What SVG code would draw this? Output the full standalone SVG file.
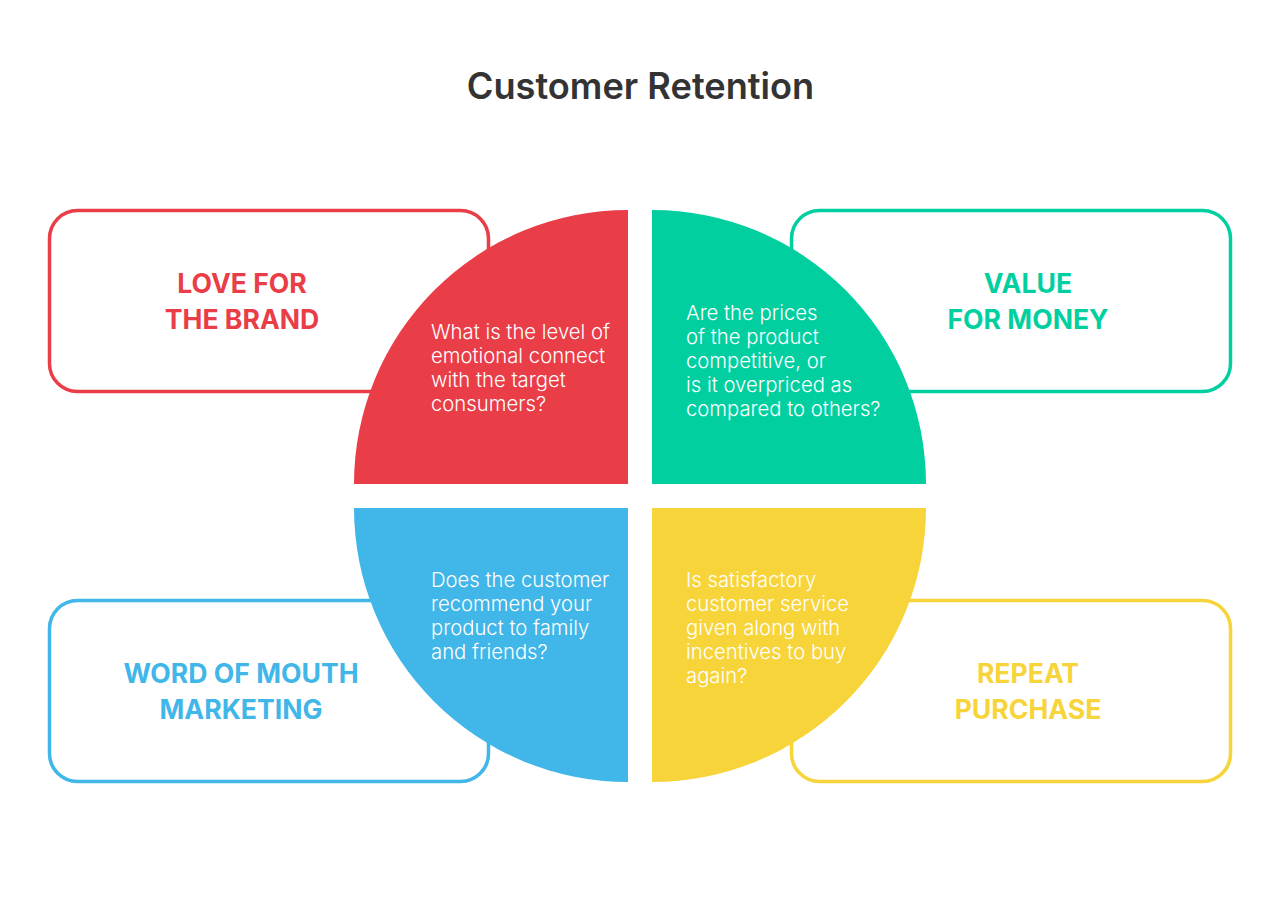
<svg xmlns="http://www.w3.org/2000/svg" width="1280" height="903" viewBox="0 0 1280 903">
<style>
.box{fill:#fff;stroke-width:3.5}
.lbl{font-family:Inter,"Liberation Sans",sans-serif;font-weight:700;font-size:26.6px;text-anchor:middle}
.q{font-family:Inter,"Liberation Sans",sans-serif;font-weight:300;font-size:20.3px;fill:#fff}
.title{font-family:Inter,"Liberation Sans",sans-serif;font-weight:600;font-size:36.2px;fill:#333;text-anchor:middle}
</style>
<rect width="1280" height="903" fill="#fff"/>
<text class="title" x="640.5" y="99">Customer Retention</text>
<g id="box-love">
<rect class="box" x="49.5" y="210.5" width="439" height="181" rx="28" stroke="#E93D48"/>
<text class="lbl" fill="#E93D48" x="242" y="293">LOVE FOR</text>
<text class="lbl" fill="#E93D48" x="242" y="329">THE BRAND</text>
</g>
<g id="box-value">
<rect class="box" x="791.5" y="210.5" width="439" height="181" rx="28" stroke="#02CFA0"/>
<text class="lbl" fill="#02CFA0" x="1028" y="293">VALUE</text>
<text class="lbl" fill="#02CFA0" x="1028" y="329">FOR MONEY</text>
</g>
<g id="box-word">
<rect class="box" x="49.5" y="600.5" width="439" height="181" rx="28" stroke="#41B6E8"/>
<text class="lbl" fill="#41B6E8" x="241" y="683">WORD OF MOUTH</text>
<text class="lbl" fill="#41B6E8" x="241" y="719">MARKETING</text>
</g>
<g id="box-repeat">
<rect class="box" x="791.5" y="600.5" width="439" height="181" rx="28" stroke="#F7D43A"/>
<text class="lbl" fill="#F7D43A" x="1028" y="683">REPEAT</text>
<text class="lbl" fill="#F7D43A" x="1028" y="719">PURCHASE</text>
</g>
<g id="quad-red">
<path d="M628,484 L628,210 A274,274 0 0 0 354,484 Z" fill="#E93D48"/>
<text class="q" x="431" y="339">What is the level of</text>
<text class="q" x="431" y="363">emotional connect</text>
<text class="q" x="431" y="387">with the target</text>
<text class="q" x="431" y="411">consumers?</text>
</g>
<g id="quad-green">
<path d="M652,484 L652,210 A274,274 0 0 1 926,484 Z" fill="#02CFA0"/>
<text class="q" x="686" y="320">Are the prices</text>
<text class="q" x="686" y="344">of the product</text>
<text class="q" x="686" y="368">competitive, or</text>
<text class="q" x="686" y="392">is it overpriced as</text>
<text class="q" x="686" y="416">compared to others?</text>
</g>
<g id="quad-blue">
<path d="M628,508 L628,782 A274,274 0 0 1 354,508 Z" fill="#41B6E8"/>
<text class="q" x="431" y="587">Does the customer</text>
<text class="q" x="431" y="611">recommend your</text>
<text class="q" x="431" y="635">product to family</text>
<text class="q" x="431" y="659">and friends?</text>
</g>
<g id="quad-yellow">
<path d="M652,508 L652,782 A274,274 0 0 0 926,508 Z" fill="#F7D43A"/>
<text class="q" x="686" y="587">Is satisfactory</text>
<text class="q" x="686" y="611">customer service</text>
<text class="q" x="686" y="635">given along with</text>
<text class="q" x="686" y="659">incentives to buy</text>
<text class="q" x="686" y="683">again?</text>
</g>
<g id="connectors"/>
</svg>
